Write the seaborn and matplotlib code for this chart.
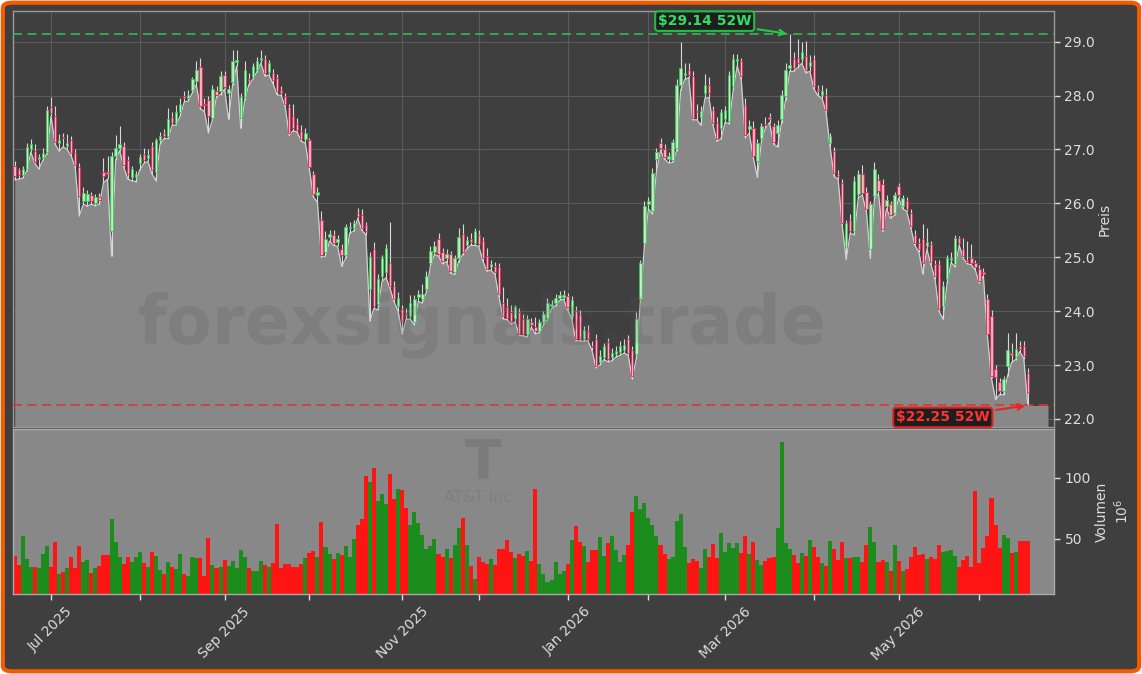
import numpy as np
import pandas as pd
import seaborn as sns
import matplotlib.pyplot as plt
from matplotlib.patches import FancyBboxPatch

# trading days, 17 Jun 2025 - 17 Jun 2026 (NYSE holidays removed)
holidays = ['2025-06-19', '2025-07-04', '2025-09-01', '2025-11-27', '2025-12-25',
            '2026-01-01', '2026-01-19', '2026-02-16', '2026-04-03', '2026-05-25']
dates = pd.date_range('2025-06-17', '2026-06-17',
                      freq=pd.offsets.CustomBusinessDay(holidays=holidays))

opens = [
    26.70, 26.61, 26.52, 26.64, 27.00, 26.98, 26.82, 26.85, 26.95, 27.79,
    27.63, 27.12, 27.24, 27.06, 27.17, 26.93, 26.68, 26.05, 26.04, 26.15,
    26.00, 26.12, 26.59, 26.58, 25.49, 26.88, 27.03, 27.06, 26.81, 26.48,
    26.48, 26.75, 26.91, 26.85, 27.06, 26.58, 27.17, 27.30, 27.25, 27.60,
    27.50, 27.70, 28.00, 27.95, 28.10, 28.27, 28.53, 27.85, 27.91, 27.59,
    28.09, 28.08, 28.38, 28.05, 28.25, 28.62, 27.59, 27.98, 28.31, 28.35,
    28.48, 28.66, 28.68, 28.43, 28.42, 28.33, 28.10, 28.00, 27.79, 27.62,
    27.48, 27.34, 27.20, 27.17, 26.54, 26.16, 25.70, 25.09, 25.38, 25.42,
    25.29, 25.15, 25.04, 25.54, 25.55, 25.83, 25.78, 25.59, 24.41, 25.15,
    24.13, 24.65, 24.72, 24.90, 24.47, 24.10, 24.04, 23.96, 23.91, 23.79,
    24.26, 24.22, 24.41, 24.90, 25.10, 25.33, 25.09, 24.99, 25.06, 24.72,
    24.98, 25.44, 25.22, 25.34, 25.27, 25.41, 25.30, 25.02, 24.82, 24.84,
    24.81, 24.16, 24.07, 23.98, 23.88, 23.98, 23.85, 23.57, 23.79, 23.70,
    23.64, 23.79, 23.88, 24.10, 24.15, 24.25, 24.26, 24.28, 23.91, 24.00,
    23.93, 23.48, 23.64, 23.36, 23.48, 23.05, 23.15, 23.42, 23.15, 23.20,
    23.24, 23.27, 23.48, 23.27, 23.20, 24.22, 25.26, 25.98, 25.86, 26.83,
    27.12, 27.00, 26.82, 26.81, 27.03, 28.19, 28.38, 28.47, 28.36, 27.72,
    27.60, 28.05, 28.20, 27.74, 27.49, 27.40, 27.56, 27.52, 28.17, 28.64,
    28.64, 27.83, 27.38, 27.40, 26.78, 27.22, 27.48, 27.60, 27.43, 27.31,
    27.56, 27.99, 28.51, 28.67, 28.70, 28.67, 28.73, 28.55, 28.67, 28.12,
    28.02, 28.02, 27.12, 26.97, 26.55, 26.38, 25.21, 25.70, 25.49, 26.17,
    26.54, 26.21, 25.16, 26.14, 26.44, 26.35, 25.96, 25.98, 25.83, 26.32,
    25.95, 26.06, 25.83, 25.41, 25.27, 25.33, 25.20, 25.24, 24.87, 24.87,
    24.10, 24.59, 24.94, 24.87, 25.36, 25.16, 24.94, 24.98, 24.89, 24.78,
    24.72, 24.22, 23.91, 22.93, 22.68, 22.52, 22.99, 23.22, 23.15, 23.36,
    23.36, 22.86]

highs = [
    26.78, 26.66, 26.70, 27.12, 27.19, 27.10, 26.92, 27.02, 27.80, 27.98,
    27.80, 27.28, 27.30, 27.28, 27.25, 27.00, 26.75, 26.30, 26.25, 26.22,
    26.18, 26.20, 26.85, 26.88, 26.95, 27.26, 27.43, 27.14, 26.88, 26.70,
    26.60, 26.92, 27.02, 27.00, 27.14, 27.22, 27.32, 27.38, 27.77, 27.70,
    27.82, 27.95, 28.08, 28.10, 28.35, 28.64, 28.70, 27.95, 28.00, 28.20,
    28.18, 28.45, 28.45, 28.20, 28.84, 28.84, 28.05, 28.64, 28.42, 28.60,
    28.72, 28.84, 28.75, 28.66, 28.50, 28.40, 28.18, 28.05, 27.85, 27.85,
    27.58, 27.45, 27.40, 27.22, 26.60, 26.30, 25.86, 25.48, 25.50, 25.50,
    25.42, 25.25, 25.62, 25.66, 25.70, 25.92, 25.90, 25.66, 25.10, 25.29,
    24.68, 25.05, 25.25, 25.66, 24.56, 24.36, 24.12, 24.05, 24.30, 24.30,
    24.40, 24.50, 24.75, 25.20, 25.30, 25.45, 25.18, 25.15, 25.12, 25.05,
    25.55, 25.62, 25.40, 25.45, 25.55, 25.50, 25.38, 25.18, 24.95, 24.92,
    24.90, 24.45, 24.25, 24.12, 24.12, 24.05, 23.95, 23.92, 23.88, 23.90,
    23.85, 24.00, 24.25, 24.20, 24.32, 24.38, 24.40, 24.34, 24.28, 24.10,
    24.02, 23.72, 23.75, 23.45, 23.58, 23.28, 23.40, 23.50, 23.32, 23.35,
    23.45, 23.48, 23.55, 23.35, 23.98, 24.95, 26.05, 26.12, 26.65, 27.02,
    27.22, 27.10, 26.95, 27.20, 28.30, 29.00, 28.60, 28.60, 28.45, 27.85,
    27.80, 28.40, 28.35, 27.80, 27.60, 27.75, 27.80, 28.45, 28.78, 28.78,
    28.70, 27.95, 27.55, 27.52, 27.20, 27.50, 27.60, 27.68, 27.50, 27.55,
    28.10, 28.60, 29.14, 28.80, 29.05, 29.00, 29.02, 28.75, 28.75, 28.20,
    28.20, 28.15, 27.30, 27.05, 26.62, 26.45, 25.70, 25.80, 26.50, 26.62,
    26.72, 26.30, 26.05, 26.77, 26.55, 26.45, 26.15, 26.05, 26.22, 26.38,
    26.15, 26.12, 25.90, 25.50, 25.35, 25.62, 25.55, 25.30, 24.95, 24.95,
    24.55, 25.05, 25.10, 25.42, 25.40, 25.35, 25.30, 25.25, 24.95, 24.85,
    24.80, 24.32, 24.02, 23.00, 22.75, 22.80, 23.60, 23.40, 23.60, 23.45,
    23.45, 22.95]

lows = [
    26.44, 26.45, 26.47, 26.60, 26.95, 26.74, 26.64, 26.80, 26.92, 27.62,
    27.10, 26.97, 27.05, 27.00, 26.88, 26.66, 25.77, 25.98, 25.95, 25.98,
    25.96, 25.98, 26.38, 26.45, 25.02, 26.80, 26.98, 26.68, 26.45, 26.42,
    26.40, 26.62, 26.74, 26.78, 26.55, 26.42, 27.10, 27.20, 27.20, 27.45,
    27.45, 27.62, 27.88, 27.90, 28.05, 28.20, 27.76, 27.70, 27.31, 27.55,
    27.98, 28.02, 28.12, 27.56, 28.20, 28.55, 27.39, 27.92, 28.20, 28.30,
    28.44, 28.60, 28.36, 28.38, 28.22, 28.02, 28.00, 27.80, 27.26, 27.35,
    27.32, 27.15, 27.12, 26.64, 26.12, 26.02, 25.00, 25.02, 25.30, 25.22,
    25.20, 24.83, 24.98, 25.45, 25.48, 25.72, 25.50, 25.42, 23.82, 24.05,
    24.02, 24.55, 24.62, 24.42, 24.17, 24.00, 23.57, 23.85, 23.85, 23.75,
    24.18, 24.15, 24.35, 24.85, 25.05, 25.02, 24.88, 24.92, 24.70, 24.68,
    24.92, 25.05, 25.15, 25.22, 25.22, 25.20, 24.93, 24.74, 24.76, 24.68,
    24.26, 23.86, 23.84, 23.76, 23.80, 23.55, 23.54, 23.52, 23.70, 23.58,
    23.60, 23.74, 23.84, 24.05, 24.10, 24.20, 24.22, 24.02, 23.86, 23.45,
    23.45, 23.44, 23.45, 23.28, 22.95, 23.00, 23.10, 23.06, 23.08, 23.15,
    23.18, 23.22, 23.18, 22.74, 23.12, 24.18, 25.20, 25.90, 25.80, 26.60,
    26.98, 26.82, 26.75, 26.76, 26.98, 28.10, 28.30, 28.33, 27.55, 27.55,
    27.45, 27.95, 27.96, 27.45, 27.15, 27.20, 27.50, 27.48, 28.10, 28.55,
    28.30, 27.22, 27.30, 26.84, 26.48, 27.15, 27.40, 27.50, 27.10, 27.05,
    27.50, 27.92, 28.45, 28.45, 28.52, 28.60, 28.42, 28.45, 28.12, 28.00,
    27.95, 27.70, 27.05, 26.50, 26.45, 25.60, 24.96, 25.44, 25.42, 26.10,
    26.15, 25.85, 24.98, 26.08, 26.18, 25.48, 25.90, 25.72, 25.78, 26.10,
    25.90, 25.85, 25.55, 25.22, 25.10, 24.69, 25.15, 24.86, 24.60, 24.00,
    23.85, 24.52, 24.90, 24.82, 25.22, 24.98, 24.88, 24.86, 24.76, 24.52,
    24.65, 23.52, 22.75, 22.36, 22.45, 22.45, 22.80, 23.05, 23.10, 23.25,
    23.12, 22.25]

closes = [
    26.51, 26.52, 26.63, 27.04, 27.10, 26.77, 26.86, 26.94, 27.74, 27.68,
    27.14, 27.18, 27.22, 27.12, 26.94, 26.72, 26.14, 26.20, 26.17, 26.05,
    26.12, 26.06, 26.51, 26.54, 26.88, 27.03, 27.11, 26.72, 26.54, 26.63,
    26.54, 26.86, 26.80, 26.90, 26.62, 27.17, 27.25, 27.25, 27.57, 27.49,
    27.70, 27.85, 27.95, 28.02, 28.30, 28.48, 27.80, 27.82, 27.63, 28.12,
    28.02, 28.36, 28.16, 28.12, 28.64, 28.66, 27.98, 28.48, 28.27, 28.54,
    28.64, 28.70, 28.41, 28.60, 28.28, 28.08, 28.05, 27.85, 27.30, 27.40,
    27.37, 27.19, 27.30, 26.68, 26.17, 26.21, 25.04, 25.33, 25.43, 25.27,
    25.34, 25.04, 25.57, 25.55, 25.64, 25.77, 25.55, 25.49, 25.01, 24.10,
    24.60, 24.99, 25.18, 24.47, 24.22, 24.25, 23.82, 23.94, 24.16, 24.22,
    24.31, 24.31, 24.65, 25.12, 25.20, 25.06, 24.93, 25.06, 24.75, 24.98,
    25.38, 25.09, 25.32, 25.28, 25.49, 25.24, 24.98, 24.78, 24.88, 24.72,
    24.31, 23.91, 23.88, 23.79, 24.07, 23.57, 23.57, 23.85, 23.74, 23.64,
    23.79, 23.94, 24.15, 24.14, 24.25, 24.29, 24.30, 24.07, 24.21, 23.48,
    23.48, 23.65, 23.48, 23.33, 22.99, 23.17, 23.35, 23.11, 23.22, 23.26,
    23.35, 23.37, 23.23, 22.80, 23.85, 24.89, 25.96, 26.04, 26.57, 26.95,
    27.03, 26.86, 26.87, 27.13, 28.19, 28.51, 28.42, 28.38, 27.59, 27.70,
    27.72, 28.20, 28.05, 27.49, 27.19, 27.70, 27.74, 28.38, 28.67, 28.68,
    28.36, 27.26, 27.44, 26.88, 27.12, 27.43, 27.45, 27.57, 27.14, 27.46,
    28.02, 28.48, 28.57, 28.51, 28.60, 28.80, 28.48, 28.63, 28.17, 28.08,
    28.08, 27.74, 27.25, 26.57, 26.50, 25.64, 25.64, 25.49, 26.41, 26.54,
    26.20, 25.90, 25.99, 26.63, 26.23, 25.52, 26.07, 25.78, 26.15, 26.15,
    26.10, 25.90, 25.58, 25.27, 25.15, 24.90, 25.28, 24.91, 24.65, 24.04,
    24.47, 24.99, 24.98, 25.36, 25.27, 25.02, 24.91, 24.90, 24.81, 24.56,
    24.69, 23.57, 22.80, 22.77, 22.52, 22.74, 23.27, 23.18, 23.30, 23.30,
    23.17, 22.49]

# volume in millions of shares
volume = [
    36.0, 28.6, 51.9, 33.5, 26.4, 27.2, 25.6, 37.6, 43.7, 26.4,
    47.5, 21.2, 22.8, 25.6, 35.4, 25.6, 43.7, 30.8, 32.7, 22.3,
    25.6, 27.8, 36.8, 36.3, 65.7, 47.5, 34.6, 29.4, 34.6, 30.5,
    34.6, 39.3, 30.2, 26.4, 39.3, 36.0, 24.5, 21.2, 30.8, 26.9,
    25.3, 37.6, 21.2, 19.8, 35.2, 34.3, 34.3, 19.8, 50.3, 28.6,
    25.6, 26.9, 32.2, 28.0, 31.9, 25.6, 40.9, 35.2, 26.1, 23.6,
    23.6, 31.9, 28.6, 26.4, 30.2, 62.4, 26.1, 29.4, 29.4, 26.4,
    26.4, 29.4, 34.3, 38.5, 40.1, 35.2, 64.0, 43.4, 37.6, 33.5,
    38.5, 36.8, 44.2, 35.2, 50.0, 61.5, 66.5, 101.3, 96.4, 107.7,
    80.8, 86.2, 78.0, 102.7, 82.1, 90.4, 89.5, 75.3, 61.5, 72.2,
    62.9, 53.0, 41.8, 44.2, 50.0, 37.6, 35.4, 41.8, 34.3, 45.1,
    59.1, 67.3, 45.1, 27.8, 17.1, 35.4, 31.1, 29.4, 33.5, 28.6,
    41.8, 41.8, 49.2, 39.3, 34.3, 37.6, 36.0, 40.1, 31.9, 90.4,
    29.4, 21.2, 14.6, 16.2, 31.1, 21.2, 23.6, 29.4, 49.2, 60.7,
    47.5, 44.2, 31.1, 40.9, 40.9, 51.6, 36.0, 46.7, 52.5, 40.9,
    31.1, 36.8, 45.1, 72.2, 84.6, 74.7, 78.8, 67.3, 61.3, 52.5,
    45.1, 37.6, 33.5, 35.2, 64.8, 70.6, 43.4, 30.2, 33.5, 31.9,
    26.1, 41.8, 35.2, 45.9, 34.3, 54.9, 39.3, 46.7, 42.6, 46.7,
    38.5, 52.5, 37.6, 47.5, 32.7, 28.6, 31.9, 34.3, 35.2, 59.1,
    129.1, 46.7, 41.8, 36.8, 30.2, 38.5, 36.0, 49.2, 43.4, 35.2,
    30.2, 27.8, 48.4, 41.8, 32.7, 47.5, 34.3, 34.3, 35.2, 35.2,
    31.1, 45.1, 59.9, 47.5, 31.1, 32.7, 31.1, 23.6, 45.1, 31.9,
    23.6, 25.3, 35.2, 43.4, 36.8, 37.6, 33.5, 35.2, 33.5, 45.1,
    39.3, 40.1, 40.9, 36.0, 26.4, 32.7, 36.0, 26.4, 88.7, 30.2,
    42.6, 52.5, 82.9, 61.5, 42.6, 53.3, 50.8, 38.5, 39.3, 48.4,
    48.4, 48.4]

n = len(closes)
dates = dates[:n]
idx = np.arange(n)
o = np.array(opens)
h = np.array(highs)
l = np.array(lows)
c = np.array(closes)
up = c >= o

BG = '#3f3f3f'
FILL = '#888888'
TXT = '#dddddd'

sns.set_theme(style='dark')
plt.rcParams['font.family'] = ['DejaVu Sans']

fig = plt.figure(figsize=(11.42, 6.74), dpi=100)
fig.patch.set_facecolor('white')
fig.patches.append(FancyBboxPatch((0.0025, 0.004), 0.995, 0.992,
                                  boxstyle='round,pad=0,rounding_size=0.008',
                                  transform=fig.transFigure, fc=BG, ec='#f55a00',
                                  lw=3, zorder=-10))

ax = fig.add_axes([0.0111, 0.3665, 0.9119, 0.6172])
axv = fig.add_axes([0.0111, 0.1187, 0.9119, 0.2448], sharex=ax)

# price panel
ax.set_facecolor(BG)
ylo, yhi = 21.85, 29.57
ax.fill_between(np.append(idx, n + 4), np.append(l, l[-1]), ylo, color=FILL, lw=0, zorder=2)
sns.lineplot(x=idx, y=l, ax=ax, color='#d0d0d0', lw=0.9, zorder=3)

wick_top = np.maximum(h, np.maximum(o, c))
wick_bot = np.minimum(l, np.minimum(o, c))
ax.vlines(idx, wick_bot, wick_top, color='#d8d8d8', lw=0.8, zorder=4)
body_lo = np.minimum(o, c)
body_h = np.maximum(np.abs(c - o), 0.02)
ax.bar(idx[up], body_h[up], bottom=body_lo[up], width=0.6,
       color='#c4eec4', edgecolor='#3cc85a', lw=0.7, alpha=0.9, zorder=5)
ax.bar(idx[~up], body_h[~up], bottom=body_lo[~up], width=0.6,
       color='#f4b8c6', edgecolor='#e42a5a', lw=0.7, alpha=0.9, zorder=5)

# 52 week high / low
hi_i = int(np.argmax(h))
lo_i = int(np.argmin(l))
ax.axhline(h[hi_i], color='#33bb55', lw=1.3, ls=(0, (5, 3)), alpha=0.9, zorder=3)
ax.axhline(l[lo_i], color='#dd3333', lw=1.3, ls=(0, (5, 3)), alpha=0.9, zorder=3)
ax.annotate(f'${h[hi_i]:.2f} 52W', xy=(hi_i, h[hi_i]), xytext=(-85, 13),
            textcoords='offset pixels', ha='center', va='center', color='#33dd66',
            fontsize=10, fontweight='bold', zorder=8,
            bbox=dict(boxstyle='round,pad=0.2', fc='#1e1e1e', ec='#22bb44', lw=1.5),
            arrowprops=dict(arrowstyle='->', color='#22cc44', lw=1.5))
ax.annotate(f'${l[lo_i]:.2f} 52W', xy=(lo_i, l[lo_i]), xytext=(-85, -12),
            textcoords='offset pixels', ha='center', va='center', color='#ff3333',
            fontsize=10, fontweight='bold', zorder=8,
            bbox=dict(boxstyle='round,pad=0.2', fc='#1e1e1e', ec='#dd2222', lw=1.5),
            arrowprops=dict(arrowstyle='->', color='#ee2222', lw=1.5))

fig.text(0.422, 0.518, 'forexsignals.trade', fontsize=48, fontweight='bold',
         color='#555555', alpha=0.18, ha='center', va='center', zorder=6)

ax.set_ylim(ylo, yhi)
ax.set_yticks(np.arange(22, 30, 1.0))
ax.yaxis.set_major_formatter(plt.FormatStrFormatter('%.1f'))
ax.yaxis.tick_right()
ax.yaxis.set_label_position('right')
ax.set_ylabel('Preis', color=TXT, fontsize=10, labelpad=2)
ax.tick_params(axis='y', colors=TXT, labelsize=10, length=4, width=1, right=True)
ax.tick_params(axis='x', bottom=False, labelbottom=False)
ax.grid(True, which='both', color='#5a5a5a', lw=0.8)
ax.set_axisbelow(True)
for s in ax.spines.values():
    s.set_color('#9a9a9a')
    s.set_linewidth(1)

# volume panel
axv.set_facecolor(FILL)
vdf = pd.DataFrame({'pos': idx, 'vol': volume, 'dir': np.where(up, 'up', 'down')})
sns.barplot(data=vdf, x='pos', y='vol', hue='dir', native_scale=True, dodge=False,
            palette={'up': '#1c8c1c', 'down': '#ff1414'}, width=1.0, saturation=1,
            linewidth=0, errorbar=None, legend=False, ax=axv)
axv.text(482.7 / 1142, 1 - 477 / 674, 'T', transform=fig.transFigure, fontsize=39,
         fontweight='bold', color='#7b7b7b', ha='center', va='baseline')
axv.text(480 / 1142, 1 - 490 / 674, 'AT&T Inc.', transform=fig.transFigure, fontsize=11,
         color='#7f7f7f', ha='center', va='top')
axv.set_ylim(4.7, 139.8)
axv.set_yticks([50, 100])
axv.yaxis.tick_right()
axv.yaxis.set_label_position('right')
axv.set_ylabel('Volumen\n$10^{6}$', color=TXT, fontsize=10, labelpad=3)
axv.tick_params(axis='y', colors=TXT, labelsize=10, length=4, width=1, right=True)
axv.grid(False)
for s in axv.spines.values():
    s.set_color('#aaaaaa')
    s.set_linewidth(1)

# month ticks: labelled every second month
starts = [i for i in range(1, n) if dates[i].month != dates[i - 1].month]
major = [i for i in starts if dates[i].month % 2 == 1]
minor = [i for i in starts if dates[i].month % 2 == 0]
axv.set_xticks(major)
axv.set_xticklabels([dates[i].strftime('%b %Y') for i in major], rotation=45)
axv.set_xticks(minor, minor=True)
axv.tick_params(axis='x', which='both', colors=TXT, labelsize=10, length=4, width=1,
                bottom=True)
axv.set_xlabel('')
ax.set_xlim(-0.5, n + 5.5)

fig.savefig('out.png', dpi=100, facecolor=fig.get_facecolor())
